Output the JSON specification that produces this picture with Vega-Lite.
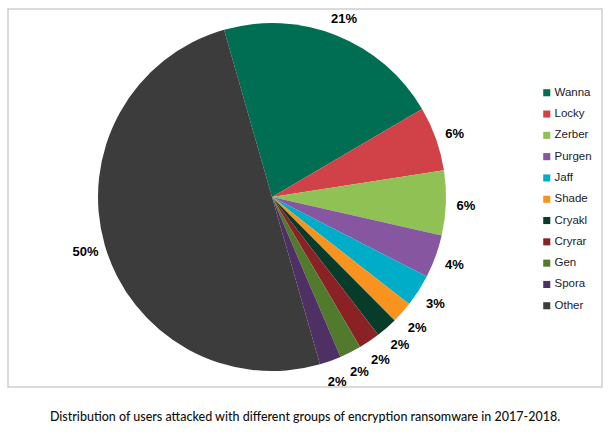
{
  "$schema": "https://vega.github.io/schema/vega-lite/v6.json",
  "autosize": {"type": "none"},
  "padding": {"left": 8, "top": 9, "right": 13, "bottom": 49},
  "width": 594,
  "height": 378,
  "background": "white",
  "view": {"stroke": "#cfcfcf", "strokeWidth": 1.5, "fill": "white"},
  "title": {
    "text": "Distribution of users attacked with different groups of encryption ransomware in 2017-2018.",
    "orient": "bottom",
    "anchor": "middle",
    "offset": 22,
    "font": "Lato",
    "fontSize": 12.5,
    "fontWeight": 500,
    "color": "#111111"
  },
  "config": {
    "legend": {
      "labelFont": "Liberation Sans",
      "labelFontSize": 11.5,
      "labelColor": "#1a1a2a",
      "symbolType": "square",
      "symbolSize": 50,
      "symbolStrokeWidth": 0,
      "rowPadding": 8.3,
      "labelOffset": 2
    }
  },
  "data": {
    "values": [
      {"group": "Wanna", "share": 0.21, "rank": 1},
      {"group": "Locky", "share": 0.06, "rank": 2},
      {"group": "Zerber", "share": 0.06, "rank": 3},
      {"group": "Purgen", "share": 0.04, "rank": 4},
      {"group": "Jaff", "share": 0.03, "rank": 5},
      {"group": "Shade", "share": 0.02, "rank": 6},
      {"group": "Cryakl", "share": 0.02, "rank": 7},
      {"group": "Cryrar", "share": 0.02, "rank": 8},
      {"group": "Gen", "share": 0.02, "rank": 9},
      {"group": "Spora", "share": 0.02, "rank": 10},
      {"group": "Other", "share": 0.50, "rank": 11}
    ]
  },
  "encoding": {
    "theta": {
      "field": "share",
      "type": "quantitative",
      "stack": true,
      "scale": {"range": [-0.2793, 6.0039]}
    },
    "order": {"field": "rank", "type": "quantitative"}
  },
  "layer": [
    {
      "mark": {"type": "arc", "outerRadius": 174, "x": 264, "y": 188},
      "encoding": {
        "color": {
          "field": "group",
          "type": "nominal",
          "title": null,
          "scale": {
            "domain": ["Wanna", "Locky", "Zerber", "Purgen", "Jaff", "Shade", "Cryakl", "Cryrar", "Gen", "Spora", "Other"],
            "range": ["#006e52", "#d04148", "#8fc155", "#8756a0", "#00adc8", "#f7931e", "#073c2a", "#8a2125", "#527a2c", "#4e3064", "#3c3c3c"]
          },
          "legend": {"orient": "none", "legendX": 533, "legendY": 78, "labelFont": "Liberation Sans"}
        }
      }
    },
    {
      "mark": {
        "type": "text",
        "radius": 194,
        "x": 264,
        "y": 190,
        "font": "Liberation Sans",
        "fontSize": 13,
        "fontWeight": "bold",
        "color": "black"
      },
      "encoding": {
        "text": {"field": "share", "type": "quantitative", "format": ".0%"},
        "detail": {"field": "group", "type": "nominal"}
      }
    }
  ]
}
